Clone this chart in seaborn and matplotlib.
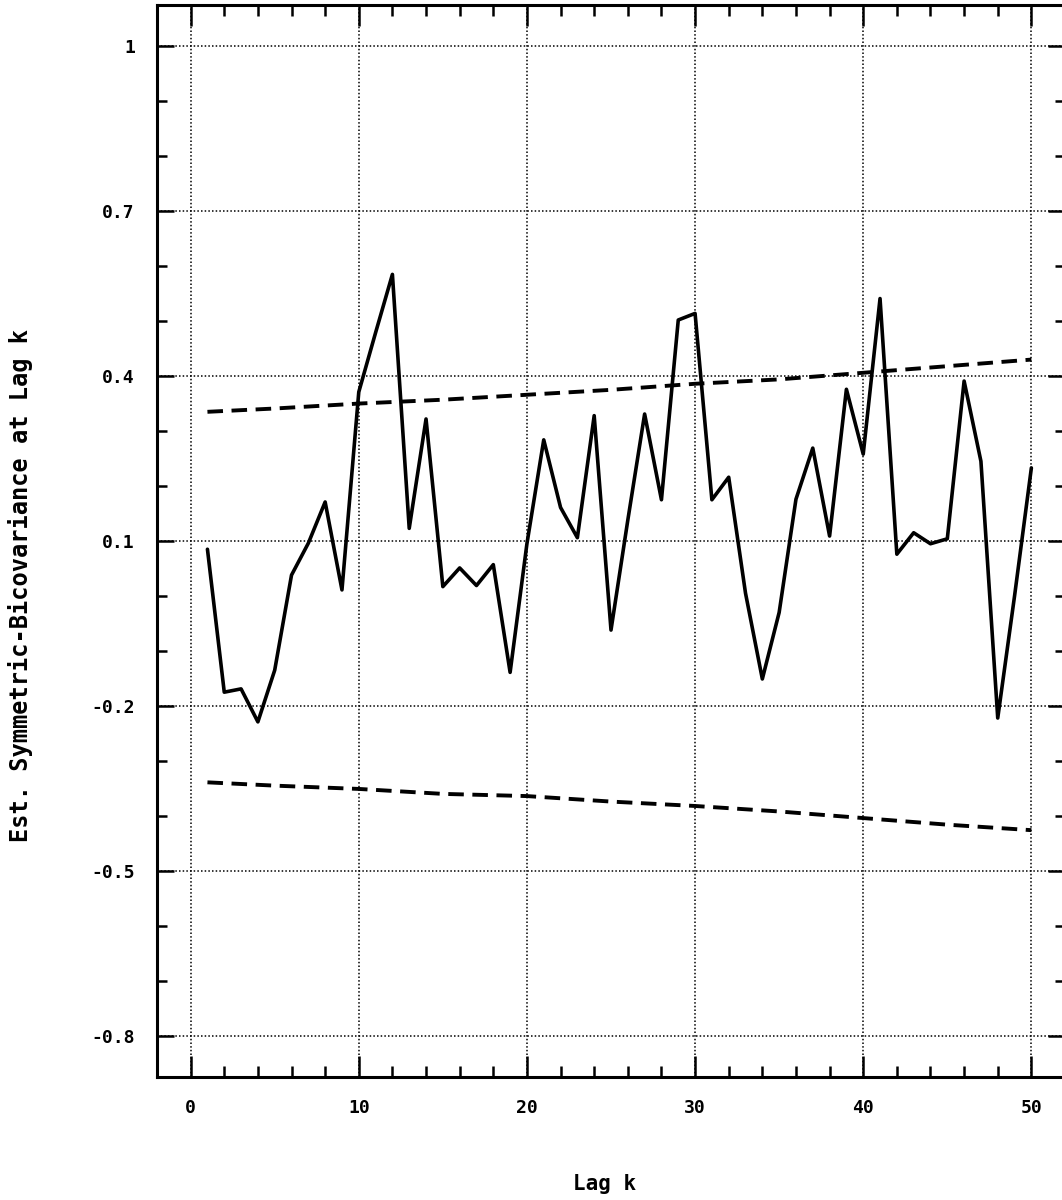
import matplotlib
matplotlib.use("Agg")
import matplotlib.pyplot as plt
from matplotlib.ticker import MultipleLocator, FixedLocator, FixedFormatter
import seaborn as sns
import pandas as pd

# ---- data ----
lags = list(range(1, 51))
bicov = [0.085, -0.175, -0.169, -0.229, -0.135, 0.038, 0.096, 0.171, 0.011, 0.371,
         0.479, 0.585, 0.123, 0.322, 0.017, 0.051, 0.019, 0.057, -0.139, 0.095,
         0.284, 0.161, 0.106, 0.328, -0.062, 0.138, 0.331, 0.175, 0.502, 0.514,
         0.175, 0.216, 0.005, -0.151, -0.030, 0.176, 0.269, 0.109, 0.376, 0.258,
         0.541, 0.076, 0.115, 0.095, 0.104, 0.391, 0.245, -0.222, 0.000, 0.233]
band_lags = [1, 5, 10, 15, 20, 25, 30, 35, 40, 45, 50]
upper_band = [0.335, 0.341, 0.350, 0.357, 0.366, 0.375, 0.386, 0.394, 0.406, 0.418, 0.430]
lower_band = [-0.339, -0.345, -0.351, -0.360, -0.364, -0.374, -0.382, -0.392, -0.404, -0.416, -0.426]

x_ticks = [0, 10, 20, 30, 40, 50]
x_ticklabels = ["0", "10", "20", "30", "40", "50"]
y_ticks = [1.0, 0.7, 0.4, 0.1, -0.2, -0.5, -0.8]
y_ticklabels = ["1", "0.7", "0.4", "0.1", "-0.2", "-0.5", "-0.8"]

sns.set_theme(style="white")
plt.rcParams['font.family'] = ['DejaVu Sans Mono', 'DejaVu Sans']
plt.rcParams['font.weight'] = 'bold'
plt.rcParams['text.color'] = 'black'
plt.rcParams['axes.labelcolor'] = 'black'

W, H = 1062, 1200
fig = plt.figure(figsize=(W / 100, H / 100), dpi=100)
ax = fig.add_axes([157 / W, (H - 1077) / H, (1065 - 157) / W, (1077 - 5) / H])

df = pd.DataFrame({"lag": lags, "val": bicov})
bands = pd.DataFrame({"lag": band_lags, "up": upper_band, "lo": lower_band})

sns.lineplot(data=df, x="lag", y="val", ax=ax, color="black", lw=2.6, zorder=4)
sns.lineplot(data=bands, x="lag", y="up", ax=ax, color="black", lw=2.8,
             linestyle=(0, (4, 2.2)), zorder=3)
sns.lineplot(data=bands, x="lag", y="lo", ax=ax, color="black", lw=2.8,
             linestyle=(0, (4, 2.2)), zorder=3)

ax.set_xlim(-2, 52)
ax.set_ylim(-0.875, 1.075)

ax.xaxis.set_major_locator(FixedLocator(x_ticks))
ax.xaxis.set_major_formatter(FixedFormatter(x_ticklabels))
ax.xaxis.set_minor_locator(MultipleLocator(2))
ax.yaxis.set_major_locator(FixedLocator(y_ticks))
ax.yaxis.set_major_formatter(FixedFormatter(y_ticklabels))
ax.yaxis.set_minor_locator(MultipleLocator(0.1))

ax.grid(True, which="major", color="black", linestyle=(0, (1, 1.4)), lw=1.1)
ax.set_axisbelow(True)

for s in ax.spines.values():
    s.set_color("black")
    s.set_linewidth(2.2)
    s.set_visible(True)

ax.tick_params(axis="both", which="both", direction="in", top=True, right=True,
               bottom=True, left=True, colors="black", labelcolor="black", width=1.8)
ax.tick_params(axis="x", which="major", length=15, pad=16, labelsize=13)
ax.tick_params(axis="x", which="minor", length=8)
ax.tick_params(axis="y", which="major", length=12, pad=16, labelsize=13)
ax.tick_params(axis="y", which="minor", length=7)
for lab in ax.get_xticklabels() + ax.get_yticklabels():
    lab.set_fontweight("bold")

ax.set_xlabel("Lag k", fontsize=15, fontweight="bold", color="black")
ax.set_ylabel("Est. Symmetric-Bicovariance at Lag k", fontsize=17,
              fontweight="bold", color="black")
ax.xaxis.set_label_coords((605 - 157) / (1065 - 157), -(1174 - 1077) / (1077 - 5))
ax.yaxis.set_label_coords(-(157 - 33) / (1065 - 157), (1077 - 586) / (1077 - 5))

fig.savefig("out.png", dpi=100, facecolor="white")
